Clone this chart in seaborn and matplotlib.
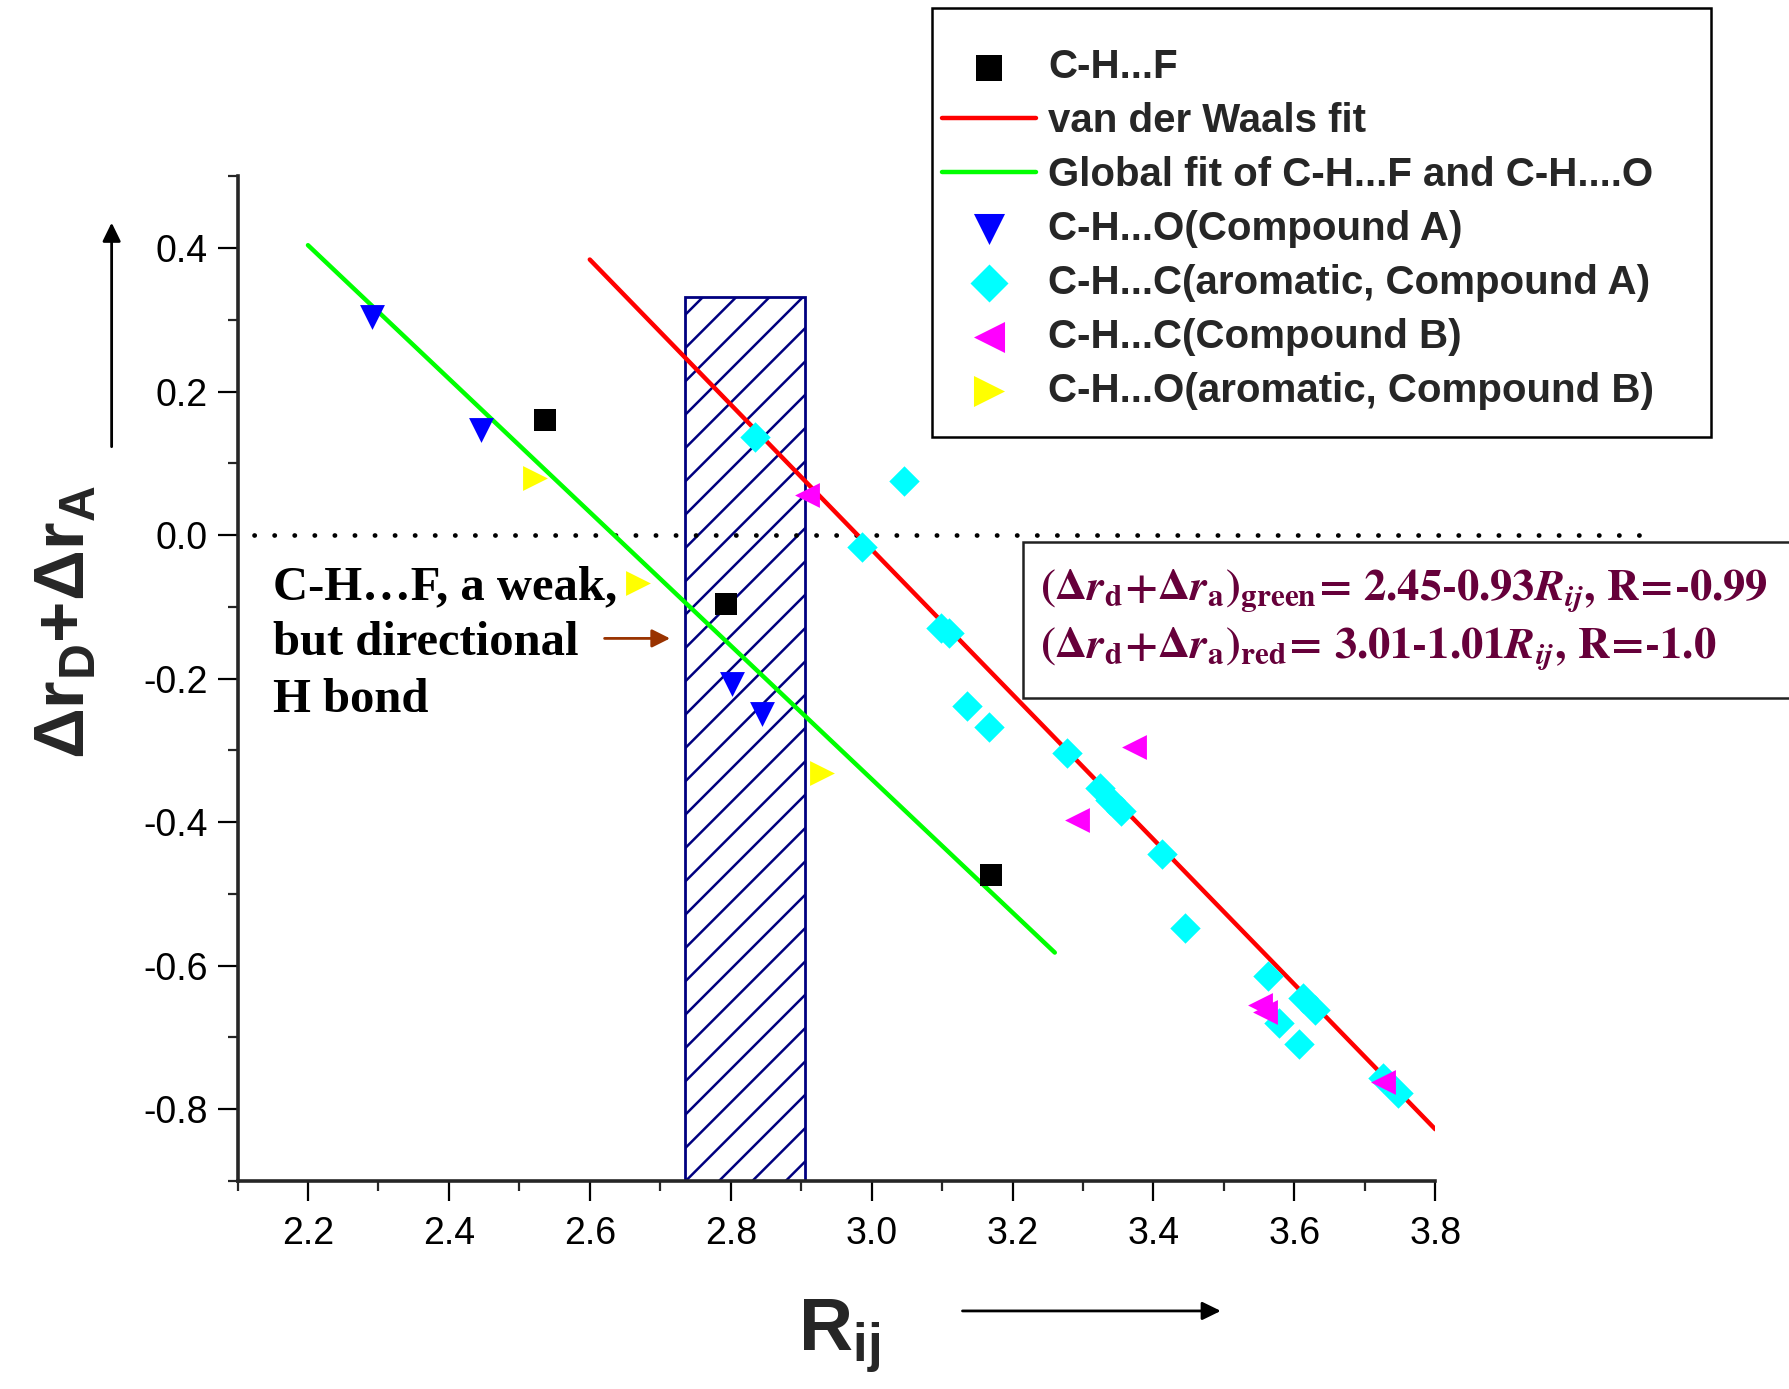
import matplotlib
matplotlib.use("Agg")
import numpy as np
import pandas as pd
import matplotlib.pyplot as plt
import seaborn as sns
from matplotlib.patches import Rectangle, FancyArrowPatch
from matplotlib.ticker import MultipleLocator, FormatStrFormatter

# ---- data -------------------------------------------------------------
chf_x = [2.537, 2.794, 3.170]
chf_y = [0.160, -0.096, -0.474]

oA_x = [2.291, 2.446, 2.802, 2.844]
oA_y = [0.304, 0.147, -0.208, -0.249]

cA_x = [2.834, 3.046, 2.986, 3.098, 3.110, 3.136, 3.167, 3.277, 3.324, 3.338,
        3.354, 3.412, 3.445, 3.563, 3.613, 3.629, 3.578, 3.607, 3.726, 3.747]
cA_y = [0.137, 0.075, -0.016, -0.130, -0.137, -0.238, -0.268, -0.304, -0.353, -0.369,
        -0.385, -0.444, -0.547, -0.614, -0.645, -0.662, -0.680, -0.709, -0.757, -0.778]

cB_x = [2.908, 3.373, 3.292, 3.551, 3.559, 3.726]
cB_y = [0.056, -0.295, -0.397, -0.655, -0.664, -0.762]

oB_x = [2.522, 2.669, 2.930]
oB_y = [0.080, -0.067, -0.331]

# linear fits: intercept, slope, x-range, correlation
green_fit = dict(a=2.45, b=-0.93, x=[2.2, 3.26], r=-0.99)
red_fit = dict(a=3.01, b=-1.01, x=[2.6, 3.8], r=-1.0)

# shaded region of directional C-H...F contacts
band_x = [2.735, 2.906]
band_top = 0.332

labels = ["C-H...F", "van der Waals fit", "Global fit of C-H...F and C-H....O",
          "C-H...O(Compound A)", "C-H...C(aromatic, Compound A)",
          "C-H...C(Compound B)", "C-H...O(aromatic, Compound B)"]

# ---- style ------------------------------------------------------------
sns.set_style("ticks")
plt.rcParams["font.family"] = ["Liberation Sans", "DejaVu Sans"]
plt.rcParams["mathtext.fontset"] = "custom"
plt.rcParams["mathtext.rm"] = "Liberation Sans"
plt.rcParams["mathtext.bf"] = "Liberation Sans:bold"
plt.rcParams["mathtext.it"] = "Liberation Sans:italic"
plt.rcParams["hatch.linewidth"] = 1.8

fig = plt.figure(figsize=(17.89, 13.89), dpi=100)
ax = fig.add_axes([0.13276, 0.14982, 0.6695, 0.72326])

# hatched band
ax.add_patch(Rectangle((band_x[0], -0.9), band_x[1] - band_x[0], band_top + 0.9,
                       facecolor="none", edgecolor="#000080", hatch="/",
                       linewidth=2.0, zorder=1.5))

# zero reference line
ax.plot([2.124, 4.095], [0, 0], color="black", lw=3.4,
        linestyle=(0, (0.05, 4.2)), dash_capstyle="round",
        clip_on=False, zorder=1.6)

# fit lines
def fit_frame(f):
    xs = np.array(f["x"])
    return pd.DataFrame({"x": xs, "y": f["a"] + f["b"] * xs})

sns.lineplot(data=fit_frame(red_fit), x="x", y="y", color="#FF0000", lw=3.2,
             ax=ax, label=labels[1], zorder=2)
sns.lineplot(data=fit_frame(green_fit), x="x", y="y", color="#00FF00", lw=3.2,
             ax=ax, label=labels[2], zorder=2)

# scatter series
series = [
    (chf_x, chf_y, "s", "#000000", 230, labels[0]),
    (oA_x, oA_y, "v", "#0000FF", 320, labels[3]),
    (cA_x, cA_y, "D", "#00FFFF", 240, labels[4]),
    (cB_x, cB_y, "<", "#FF00FF", 320, labels[5]),
    (oB_x, oB_y, ">", "#FFFF00", 320, labels[6]),
]
for xs, ys, m, c, s, lab in series:
    sns.scatterplot(x=xs, y=ys, marker=m, color=c, s=s, linewidth=0,
                    ax=ax, label=lab, zorder=3)

# axes
ax.set_xlim(2.1, 3.8)
ax.set_ylim(-0.9, 0.5)
ax.set_xticks(np.round(np.arange(2.2, 3.81, 0.2), 1))
ax.xaxis.set_minor_locator(MultipleLocator(0.1))
ax.yaxis.set_major_locator(MultipleLocator(0.2))
ax.yaxis.set_minor_locator(MultipleLocator(0.1))
ax.xaxis.set_major_formatter(FormatStrFormatter("%.1f"))
ax.yaxis.set_major_formatter(FormatStrFormatter("%.1f"))
for side in ["top", "right"]:
    ax.spines[side].set_visible(False)
for side in ["left", "bottom"]:
    ax.spines[side].set_linewidth(2.6)
ax.tick_params(which="major", direction="out", length=14.4, width=1.6,
               labelsize=27, colors="black")
ax.tick_params(which="minor", direction="out", length=7.2, width=1.6)
ax.tick_params(axis="y", which="major", pad=7)
ax.tick_params(axis="x", which="major", pad=11)
ax.set_xlabel("")
ax.set_ylabel("")

# legend (frame drawn separately as a fixed box behind the entries)
ax.add_artist(Rectangle((0.5210, 0.6853), 0.4356, 0.3089, transform=fig.transFigure,
                        facecolor="white", edgecolor="black", lw=1.8,
                        clip_on=False, zorder=8))
h, l = ax.get_legend_handles_labels()
lookup = dict(zip(l, h))
leg = ax.legend([lookup[k] for k in labels], labels, loc="upper left",
                bbox_to_anchor=(0.5268, 0.9653), bbox_transform=fig.transFigure,
                prop=dict(family="Liberation Sans", weight="bold", size=29),
                frameon=False, borderpad=0, labelspacing=0.395, handlelength=2.32,
                handletextpad=0.31, borderaxespad=0, scatterpoints=1,
                markerscale=1.25)
leg.set_zorder(10)

# axis labels
fig.text(0.0372, 0.5523, r"$\mathbf{\Delta r_D{+}\Delta r_A}$", rotation=90,
         ha="center", va="center", size=51, math_fontfamily="custom")
fig.text(0.469, 0.0376, r"$\mathbf{R_{ij}}$", ha="center", va="center",
         size=54, math_fontfamily="custom")

# direction arrows
arrow_kw = dict(transform=fig.transFigure, arrowstyle="-|>,head_length=0.45,head_width=0.22",
                mutation_scale=25, lw=2, color="black", shrinkA=0, shrinkB=0)
fig.add_artist(FancyArrowPatch((0.0624, 0.6784), (0.0624, 0.8397), **arrow_kw))
fig.add_artist(FancyArrowPatch((0.538, 0.0562), (0.6824, 0.0562), **arrow_kw))

# annotation
ax.text(2.150, -0.042, "C-H…F, a weak,\nbut directional\nH bond",
        family="Liberation Serif", weight="bold", size=35, va="top", ha="left",
        linespacing=1.36, color="black", zorder=4)
ax.annotate("", xy=(2.714, -0.144), xytext=(2.621, -0.144),
            arrowprops=dict(arrowstyle="-|>,head_length=0.5,head_width=0.25",
                            mutation_scale=22, lw=2, color="#993300",
                            shrinkA=0, shrinkB=0), zorder=4)

# equation box
fig.add_artist(Rectangle((0.572, 0.4973), 0.5, 0.1127, transform=fig.transFigure,
                         facecolor="white", edgecolor="#222222", lw=1.8,
                         clip_on=False, zorder=5))

def eq_text(name, f):
    return (r"$\mathbf{(\Delta}\mathbfit{r}_{\mathbf{d}}\mathbf{{+}\Delta}\mathbfit{r}_{\mathbf{a}}\mathbf{)}"
            r"_{\mathbf{" + name + r"}}\!\mathbf{=}\,\mathbf{" + f"{f['a']:.2f}‐{abs(f['b']):.2f}" + r"}"
            r"\mathbfit{R}_{\mathbfit{ij}}\mathbf{,\,R\!=\!‐" + str(abs(f["r"])) + r"}$")

eq_color = "#66003a"
fig.text(0.5813, 0.568, eq_text("green", green_fit), color=eq_color, size=32,
         ha="left", va="baseline", math_fontfamily="stix", zorder=6)
fig.text(0.5813, 0.5263, eq_text("red", red_fit), color=eq_color, size=32,
         ha="left", va="baseline", math_fontfamily="stix", zorder=6)

fig.savefig("out.png", dpi=100, facecolor="white")
